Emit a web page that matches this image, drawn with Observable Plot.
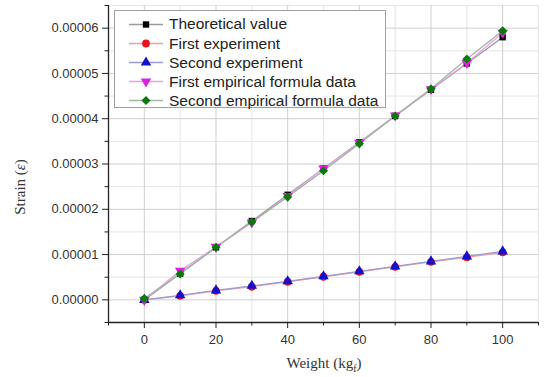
<!DOCTYPE html>
<html>
<head>
<meta charset="utf-8">
<script src="https://cdn.jsdelivr.net/npm/d3@7"></script>
<script src="https://cdn.jsdelivr.net/npm/@observablehq/plot@0.6"></script>
<style>
  html, body { margin: 0; padding: 0; background: #fff; }
  #wrap { position: relative; width: 544px; height: 377px; }
  #legend { position: absolute; left: 114px; top: 10px; width: 272px; height: 98px;
    border: 1px solid #a0a0a0; background: #fff; box-sizing: border-box;
    font-family: "Liberation Sans", Arial, sans-serif; font-size: 15.5px; color: #222; }
  .row { position: absolute; left: 0; height: 19px; display: flex; align-items: center; }
  .row svg { display: block; }
  .row span { margin-left: 5px; white-space: nowrap; }
</style>
</head>
<body>
<div id="wrap"><div id="legend"></div></div>
<script>
// ---- data ----
const weights = [0, 10, 20, 30, 40, 50, 60, 70, 80, 90, 100];
const theoretical = [0, 0.0000058, 0.0000116, 0.0000174, 0.0000232, 0.0000290, 0.0000348, 0.0000406, 0.0000464, 0.0000522, 0.0000580];
const firstExperiment = [0, 0.0000009, 0.0000020, 0.0000029, 0.0000040, 0.0000051, 0.0000062, 0.0000073, 0.0000084, 0.0000094, 0.0000105];
const secondExperiment = [0, 0.0000010, 0.0000021, 0.0000031, 0.0000041, 0.0000052, 0.0000063, 0.0000074, 0.0000085, 0.0000096, 0.0000107];
const firstEmpirical = [0, 0.0000064, 0.0000117, 0.0000171, 0.0000229, 0.0000290, 0.0000347, 0.0000407, 0.0000465, 0.0000523, 0.0000590];
const secondEmpirical = [0.0000003, 0.0000057, 0.0000116, 0.0000172, 0.0000227, 0.0000285, 0.0000345, 0.0000406, 0.0000466, 0.0000532, 0.0000594];

const seriesNames = ["Theoretical value", "First experiment", "Second experiment", "First empirical formula data", "Second empirical formula data"];
const seriesValues = [theoretical, firstExperiment, secondExperiment, firstEmpirical, secondEmpirical];
const seriesColors = ["#000000", "#e8141c", "#1010d0", "#e020e0", "#0a7a0a"];
const lineColors = ["#9a9a9a", "#f0a0a0", "#9a9ad8", "#e8a0e8", "#a0b8a0"];

const xDomain = [-10, 110];
const yDomain = [-0.000005, 0.000065];
const xMajor = [0, 20, 40, 60, 80, 100];
const xMinor = [-10, 10, 30, 50, 70, 90, 110];
const yMajor = [0, 0.00001, 0.00002, 0.00003, 0.00004, 0.00005, 0.00006];
const yMinor = [-0.000005, 0.000005, 0.000015, 0.000025, 0.000035, 0.000045, 0.000055, 0.000065];

// ---- symbols ----
const triDown = {
  draw(ctx, size) {
    const s = Math.sqrt(size / (Math.sqrt(3) / 4));
    const h = s * Math.sqrt(3) / 2;
    ctx.moveTo(-s / 2, -h / 3);
    ctx.lineTo(s / 2, -h / 3);
    ctx.lineTo(0, 2 * h / 3);
    ctx.closePath();
  }
};
const seriesSymbols = ["square", "circle", "triangle", triDown, "diamond2"];
const seriesSizes = [3.6, 3.9, 3.9, 3.9, 4.1];

const data = [];
seriesValues.forEach((vals, i) => vals.forEach((v, j) => data.push({series: seriesNames[i], idx: i, x: weights[j], y: v})));

const fmt = d3.format(".5f");

const marks = [
  Plot.gridY(yMinor, {stroke: "#e4e4e4", strokeOpacity: 1}),
  Plot.gridX(xMinor, {stroke: "#e4e4e4", strokeOpacity: 1}),
  Plot.gridY(yMajor, {stroke: "#cfcfcf", strokeOpacity: 1}),
  Plot.gridX(xMajor, {stroke: "#cfcfcf", strokeOpacity: 1}),
];
seriesValues.forEach((vals, i) => {
  const d = data.filter(r => r.idx === i);
  marks.push(Plot.line(d, {x: "x", y: "y", stroke: lineColors[i], strokeWidth: 1.3}));
});
[1, 2, 0, 3, 4].forEach(i => {
  const d = data.filter(r => r.idx === i);
  marks.push(Plot.dot(d, {x: "x", y: "y", symbol: () => seriesSymbols[i], r: seriesSizes[i], fill: seriesColors[i], stroke: "none"}));
});
marks.push(
  Plot.axisY(yMinor, {tickSize: 3.5, tickFormat: () => "", stroke: "#222", label: null}),
  Plot.axisY(yMajor, {tickSize: 6, tickPadding: 4, tickFormat: fmt, stroke: "#222", fill: "#333", fontSize: 13, label: null}),
  Plot.axisX(xMinor, {tickSize: 3.5, tickFormat: () => "", stroke: "#222", label: null}),
  Plot.axisX(xMajor, {tickSize: 6, tickPadding: 6, tickFormat: d => String(d), stroke: "#222", fill: "#333", fontSize: 13, label: null}),
  Plot.ruleX([xDomain[0]], {stroke: "#222", strokeWidth: 1.3}),
  Plot.ruleY([yDomain[0]], {stroke: "#222", strokeWidth: 1.3})
);

const chart = Plot.plot({
  width: 544,
  height: 377,
  marginLeft: 108,
  marginTop: 5,
  marginBottom: 55,
  marginRight: 6,
  style: {fontFamily: "'Liberation Sans', Arial, sans-serif", background: "#fff"},
  x: {domain: xDomain},
  y: {domain: yDomain},
  symbol: {type: "identity"},
  marks
});

const svg = d3.select(chart);
svg.append("text")
  .attr("x", 324).attr("y", 368)
  .attr("text-anchor", "middle")
  .attr("font-family", "'Liberation Serif', 'Times New Roman', serif")
  .attr("font-size", 15).attr("fill", "#333")
  .call(t => {
    t.append("tspan").text("Weight (kg");
    t.append("tspan").attr("font-size", 10).attr("dy", 4).text("f");
    t.append("tspan").attr("dy", -4).text(")");
  });
svg.append("text")
  .attr("transform", "translate(25,187) rotate(-90)")
  .attr("text-anchor", "middle")
  .attr("font-family", "'Liberation Serif', 'Times New Roman', serif")
  .attr("font-size", 15).attr("fill", "#333")
  .call(t => {
    t.append("tspan").text("Strain (");
    t.append("tspan").attr("font-style", "italic").text("ε");
    t.append("tspan").text(")");
  });

document.getElementById("wrap").prepend(chart);
chart.style.position = "absolute";
chart.style.left = "0";
chart.style.top = "0";

// ---- legend ----
const legend = document.getElementById("legend");
const rowTops = [3.5, 23, 42, 61, 80];
const symbolMap = {square: d3.symbolSquare, circle: d3.symbolCircle, triangle: d3.symbolTriangle, diamond2: d3.symbolDiamond2};
seriesNames.forEach((name, i) => {
  const row = document.createElement("div");
  row.className = "row";
  row.style.top = rowTops[i] + "px";
  row.style.left = "13px";
  const s = d3.create("svg").attr("width", 36).attr("height", 19);
  s.append("line").attr("x1", 1).attr("x2", 35).attr("y1", 9.5).attr("y2", 9.5)
    .attr("stroke", lineColors[i]).attr("stroke-width", 1.3);
  const symType = typeof seriesSymbols[i] === "string" ? symbolMap[seriesSymbols[i]] : seriesSymbols[i];
  const r = seriesSizes[i];
  s.append("path").attr("transform", "translate(18,9.5)")
    .attr("d", d3.symbol(symType, r * r * Math.PI)())
    .attr("fill", seriesColors[i]);
  row.appendChild(s.node());
  const span = document.createElement("span");
  span.textContent = name;
  row.appendChild(span);
  legend.appendChild(row);
});
</script>
</body>
</html>
